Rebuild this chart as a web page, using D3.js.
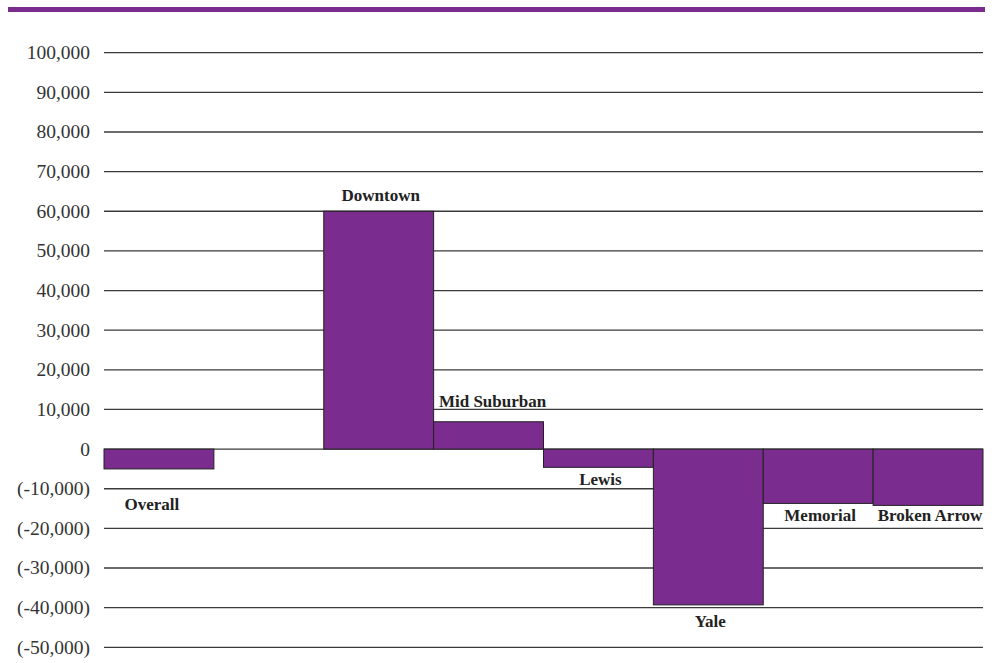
<!DOCTYPE html>
<html>
<head>
<meta charset="utf-8">
<script src="https://cdn.jsdelivr.net/npm/d3@7"></script>
<style>
  html, body { margin: 0; padding: 0; background: #fff; }
  svg { display: block; }
</style>
</head>
<body>
<script>
// ---- Data ----
const categories = ["Overall", "", "Downtown", "Mid Suburban", "Lewis", "Yale", "Memorial", "Broken Arrow"];
const values = [-5000, null, 60000, 6900, -4600, -39300, -13700, -14200];
const tickValues = [100000, 90000, 80000, 70000, 60000, 50000, 40000, 30000, 20000, 10000, 0, -10000, -20000, -30000, -40000, -50000];

// ---- Layout ----
const W = 996, H = 663;
const purple = "#7a2d8e";
const svg = d3.select("body").append("svg").attr("width", W).attr("height", H);

// top rule
svg.append("rect").attr("x", 8).attr("y", 7).attr("width", 977).attr("height", 5).attr("fill", purple);

const y = d3.scaleLinear().domain([-50000, 100000]).range([647.3, 52.7]);
const x = d3.scaleBand().domain(categories.map((c, i) => i)).range([104, 983]).padding(0);

const fmt = v => {
  const s = d3.format(",")(Math.abs(v));
  return v < 0 ? "(-" + s + ")" : s;
};

// gridlines
svg.append("g").selectAll("line").data(tickValues).join("line")
  .attr("x1", 104).attr("x2", 983)
  .attr("y1", d => y(d)).attr("y2", d => y(d))
  .attr("stroke", "#3a3a3a").attr("stroke-width", 1.3);

// tick labels
svg.append("g").selectAll("text").data(tickValues).join("text")
  .attr("x", 90).attr("y", d => y(d)).attr("dy", "0.33em")
  .attr("text-anchor", "end")
  .attr("font-family", "'Liberation Serif', 'DejaVu Serif', serif")
  .attr("font-size", 19.5).attr("fill", "#333")
  .text(fmt);

// bars
const barData = values.map((v, i) => ({ i, v, name: categories[i] })).filter(d => d.v !== null);
svg.append("g").selectAll("rect").data(barData).join("rect")
  .attr("x", d => x(d.i))
  .attr("width", x.bandwidth())
  .attr("y", d => Math.min(y(d.v), y(0)))
  .attr("height", d => Math.abs(y(d.v) - y(0)))
  .attr("fill", purple)
  .attr("stroke", "#222").attr("stroke-width", 1);

// labels (gap from bar end, as placed in the original)
const labelGap = [41, 0, 10, 15, 18, 22, 18, 16];
svg.append("g").selectAll("text").data(barData).join("text")
  .attr("x", d => x(d.i) + x.bandwidth() / 2 + (d.i === 0 ? -7 : d.i === 3 ? 4 : 2))
  .attr("y", d => d.v >= 0 ? y(d.v) - labelGap[d.i] : y(d.v) + labelGap[d.i])
  .attr("text-anchor", "middle")
  .attr("font-family", "'Liberation Serif', 'DejaVu Serif', serif")
  .attr("font-weight", "bold")
  .attr("font-size", 17)
  .attr("fill", "#222")
  .text(d => d.name);
</script>
</body>
</html>
